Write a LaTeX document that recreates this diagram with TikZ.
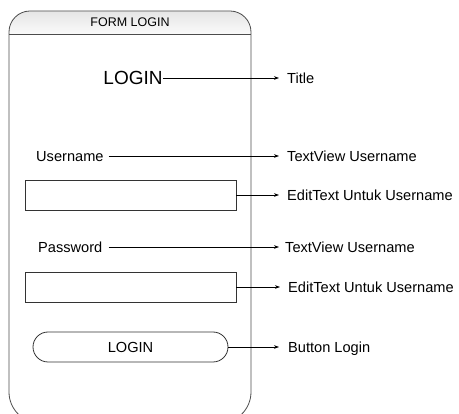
\documentclass[tikz,border=0pt]{standalone}
\usepackage{fontspec}
\setmainfont{Liberation Sans}
\usetikzlibrary{arrows.meta}
\begin{document}
\begin{tikzpicture}[x=1pt,y=-1pt,
  frame/.style={draw=black!70, line width=0.8pt},
  txt/.style={inner sep=0pt, text height=10.4pt, text depth=0pt, font=\fontsize{14.6}{16}\selectfont},
  lbl/.style={txt, anchor=west},
  conn/.style={draw=black, line width=0.6pt, -{Stealth[length=5pt,width=3.6pt]}},
  field/.style={draw=black!80, line width=0.8pt, minimum width=211pt, minimum height=30pt, inner sep=0pt},
]
\useasboundingbox (0,0) rectangle (459,414);
\clip (0,0) rectangle (459,414);
% phone frame
\draw[frame, top color=gray!20, bottom color=gray!4, rounded corners=21pt] (9,34) -- (9,11) -- (251,11) -- (251,34);
\draw[frame] (9,34) -- (251,34);
\draw[frame, rounded corners=31pt] (9,34) -- (9,423) -- (251,423) -- (251,34);
\node[inner sep=0pt, font=\fontsize{12.5}{14}\selectfont] (head) at (130,22) {FORM LOGIN};

% left side elements
\node[inner sep=0pt, text height=13.6pt, text depth=0pt, font=\fontsize{19}{21}\selectfont] (title) at (133,78) {LOGIN};
\node[lbl] (user) at (36,156) {Username};
\node[field] (ufield) at (130.5,195) {};
\node[lbl] (pass) at (38,247) {Password};
\node[field] (pfield) at (130.5,287) {};
\node[draw=black!80, line width=0.8pt, rounded corners=15pt, minimum width=195pt, minimum height=30pt, inner sep=0pt, txt] (btn) at (130.5,347) {LOGIN};

% right labels
\node[lbl] (ltitle) at (287,78) {Title};
\node[lbl] (luser) at (287,156) {TextView Username};
\node[lbl] (lufield) at (287,195) {EditText Untuk Username};
\node[lbl] (lpass) at (285,247) {TextView Username};
\node[lbl] (lpfield) at (288,287) {EditText Untuk Username};
\node[lbl] (lbtn) at (288,347) {Button Login};

% connectors
\draw[conn, shorten >=8pt] (title.east) -- (ltitle.west);
\draw[conn, shorten <=5pt, shorten >=8pt] (user.east) -- (luser.west);
\draw[conn, shorten >=8pt] (ufield.east) -- (lufield.west);
\draw[conn, shorten <=6pt, shorten >=6pt] (pass.east) -- (lpass.west);
\draw[conn, shorten >=8pt] (pfield.east) -- (lpfield.west);
\draw[conn, shorten >=9pt] (btn.east) -- (lbtn.west);
\end{tikzpicture}
\end{document}
